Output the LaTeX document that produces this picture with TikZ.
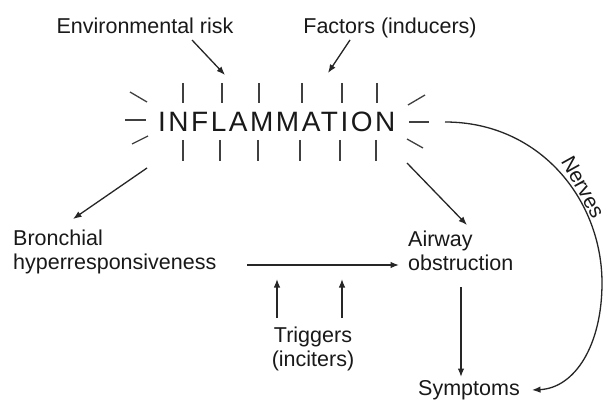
\documentclass[tikz,border=0pt]{standalone}
\usepackage{fontspec}
\setmainfont{Liberation Sans}
\usetikzlibrary{arrows.meta}
\begin{document}
\begin{tikzpicture}[x=1pt,y=-1pt,
  lbl/.style={font=\fontsize{21.5}{23.5}\selectfont, inner sep=0pt, text=black!90},
  arr/.style={draw=black!85, line width=1.3pt, -{Latex[length=8.5pt,width=6.5pt]}},
  ray/.style={draw=black!75, line width=1.3pt},
]
\useasboundingbox (0,0) rectangle (608,401);
\fill[white] (0,0) rectangle (608,401);

% text nodes (multi-line nodes: base = baseline of last line)
\node[lbl, anchor=base] (env) at (145,34) {Environmental risk};
\node[lbl, anchor=base] (fac) at (390,34) {Factors (inducers)};
\node[anchor=base west, inner sep=0pt, text=black!90,
      font=\fontsize{28}{30}\selectfont\addfontfeature{LetterSpace=9}] (infl) at (158,132) {INFLAMMATION};
\node[lbl, anchor=base west, align=left] (bron) at (13,269) {Bronchial\\hyperresponsiveness};
\node[lbl, anchor=base west, align=left] (air) at (408,270) {Airway\\obstruction};
\node[lbl, anchor=base, align=center] (trig) at (313,366) {Triggers\\(inciters)};
\node[lbl, anchor=base] (symp) at (469,395) {Symptoms};
\node[lbl, font=\fontsize{21}{23}\selectfont, rotate=-61] (nervlbl) at (583,187) {Nerves};

% connector end points
\coordinate (envS) at (192,40);   \coordinate (envT) at (225,75);
\coordinate (facS) at (350,40);   \coordinate (facT) at (328,73);
\coordinate (inflBL) at (147,168); \coordinate (bronT) at (73,219);
\coordinate (inflBR) at (407,163); \coordinate (airT) at (467,225);
\coordinate (bronR) at (247,265); \coordinate (airL) at (399,265);
\coordinate (trigA) at (277,318); \coordinate (trigAT) at (277,279);
\coordinate (trigB) at (342,318); \coordinate (trigBT) at (342,279);
\coordinate (airB) at (461,287); \coordinate (sympT) at (461,377);
\coordinate (inflR) at (445,122); \coordinate (sympR) at (532,390);

% rays around INFLAMMATION
\foreach \x in {183,222,259,302,342,377} \draw[ray] (\x,83) -- (\x,103);
\foreach \x in {183,220,258,300,340,376} \draw[ray] (\x,140) -- (\x,161);
\draw[ray] (130,92) -- (147,102);
\draw[ray] (125,120) -- (146,120);
\draw[ray] (132,144) -- (148,136);
\draw[ray] (408,105) -- (425,95);
\draw[ray] (409,122) -- (429,122);
\draw[ray] (407,139) -- (423,148);

% connectors
\draw[arr] (envS) -- (envT);
\draw[arr] (facS) -- (facT);
\draw[arr] (inflBL) -- (bronT);
\draw[arr] (inflBR) -- (airT);
\draw[arr] (bronR) -- (airL);
\draw[arr] (trigA) -- (trigAT);
\draw[arr] (trigB) -- (trigBT);
\draw[arr] (airB) -- (sympT);
\draw[arr] (inflR) .. controls (540,122) and (602,200) .. (602,283)
                   .. controls (602,345) and (575,388) .. (sympR);
\end{tikzpicture}
\end{document}
